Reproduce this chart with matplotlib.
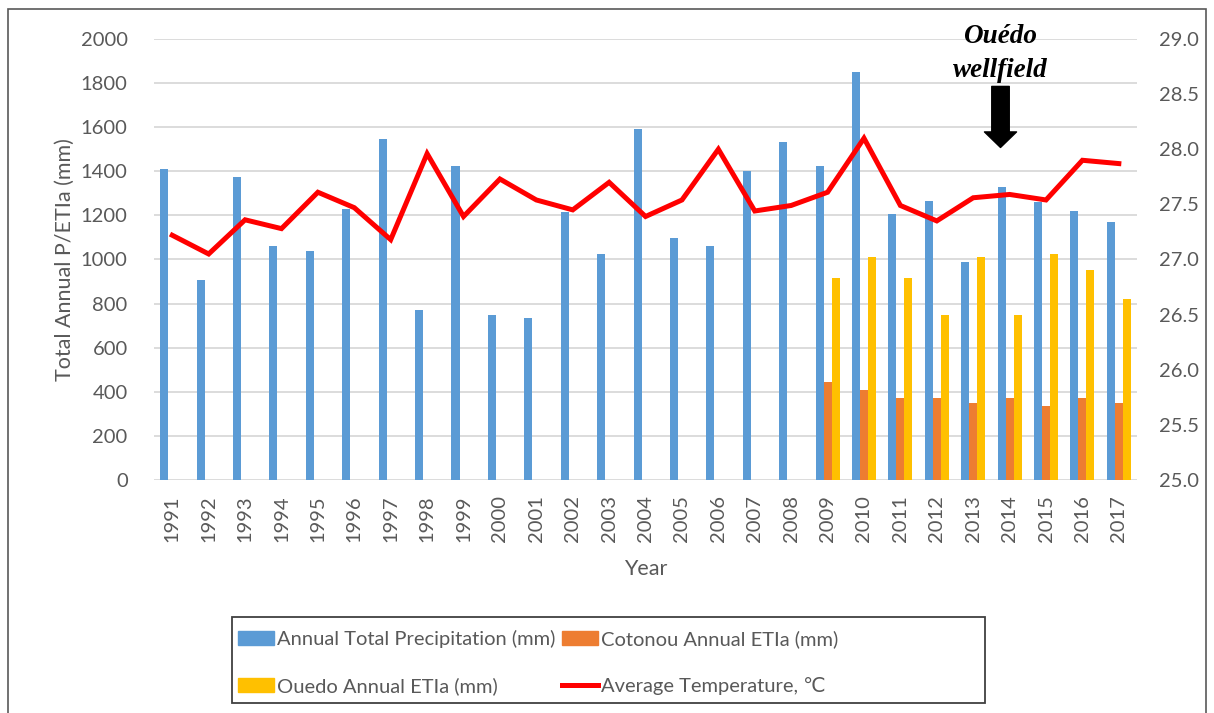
import numpy as np
from matplotlib import pyplot as plt
from matplotlib.patches import Rectangle, Patch
from matplotlib.lines import Line2D

plt.rcParams['font.family'] = ['Lato', 'DejaVu Sans']

years = list(range(1991, 2018))
precip = [1410, 905, 1375, 1060, 1037, 1228, 1545, 771, 1424, 747, 735, 1217, 1025,
          1593, 1097, 1061, 1400, 1533, 1424, 1849, 1206, 1267, 989, 1327, 1262, 1219, 1170]
cotonou_years = list(range(2009, 2018))
cotonou = [444, 408, 372, 372, 348, 372, 336, 372, 348]
ouedo = [916, 1013, 916, 747, 1013, 747, 1025, 952, 819]
temp = [27.22, 27.05, 27.36, 27.28, 27.61, 27.47, 27.18, 27.96, 27.39, 27.73, 27.54, 27.45, 27.70,
        27.39, 27.54, 28.00, 27.44, 27.49, 27.61, 28.10, 27.49, 27.35, 27.56, 27.59, 27.54, 27.90, 27.87]

blue = '#5b9bd5'
orange = '#ed7d31'
yellow = '#ffc000'
grey = '#595959'

fig = plt.figure(figsize=(12.14, 7.13), dpi=100)
ax = fig.add_axes([0.1269, 0.3268, 0.8097, 0.6185])

x = np.arange(len(years))
xc = np.array([years.index(y) for y in cotonou_years])
w = 0.22
ax.bar(x - w, precip, w, color=blue, zorder=2)
ax.bar(xc, cotonou, w, color=orange, zorder=2)
ax.bar(xc + w, ouedo, w, color=yellow, zorder=2)

ax.set_ylim(0, 2000)
ax.set_xlim(-0.5, len(years) - 0.5)
ax.set_yticks(np.arange(0, 2001, 200))
ax.grid(axis='y', color='#d9d9d9', lw=1.3, zorder=0)
ax.set_axisbelow(True)
for s in ax.spines.values():
    s.set_visible(False)
ax.set_xticks(x)
ax.set_xticklabels([str(y) for y in years], rotation=90)
ax.tick_params(axis='x', length=0, labelsize=14.5, labelcolor=grey, pad=11)
ax.tick_params(axis='y', length=0, labelsize=14.5, labelcolor=grey, pad=19)
ax.set_ylabel('Total Annual P/ETIa (mm)', fontsize=15.5, color=grey, labelpad=4)
ax.set_xlabel('Year', fontsize=15.5, color=grey, labelpad=12)

ax2 = ax.twinx()
ax2.plot(x, temp, color='#ff0000', lw=3.6, solid_joinstyle='miter', zorder=3)
ax2.set_ylim(25.0, 29.0)
ax2.set_yticks(np.arange(25.0, 29.01, 0.5))
ax2.set_yticklabels(['%.1f' % v for v in np.arange(25.0, 29.01, 0.5)])
ax2.tick_params(axis='y', length=0, labelsize=14.5, labelcolor=grey, pad=16)
for s in ax2.spines.values():
    s.set_visible(False)

# annotation
ax.text(22.75, 2010, 'Ouédo', ha='center', va='center', fontsize=19.5, fontweight='bold',
        fontstyle='italic', family='Liberation Serif', clip_on=False)
ax.text(22.75, 1855, 'wellfield', ha='center', va='center', fontsize=19.5, fontweight='bold',
        fontstyle='italic', family='Liberation Serif', clip_on=False)
ax.annotate('', xy=(22.75, 1508), xytext=(22.75, 1785),
            arrowprops=dict(arrowstyle='simple,head_width=1.65,head_length=0.8,tail_width=0.9',
                            color='black', mutation_scale=14, shrinkA=0, shrinkB=0), zorder=5)

# legend with an Excel-like box
fig.patches.append(Rectangle((232 / 1214, 1 - 703 / 713), 753 / 1214, 86 / 713,
                             transform=fig.transFigure, fill=False, edgecolor='#404040', lw=1.3))
handles = [Patch(color=blue), Patch(color=yellow), Patch(color=orange),
           Line2D([], [], color='#ff0000', lw=3.6)]
labels = ['Annual Total Precipitation (mm)', 'Ouedo Annual ETIa (mm)',
          'Cotonou Annual ETIa (mm)', 'Average Temperature, \u2103']
leg = fig.legend(handles, labels, ncol=2, loc='upper left',
                 bbox_to_anchor=(234 / 1214, 1 - 626 / 713),
                 fontsize=14.5, frameon=False,
                 handlelength=1.8, handleheight=0.7, handletextpad=0.15, columnspacing=0.3,
                 labelspacing=1.45, borderpad=0.2, borderaxespad=0)
for t in leg.get_texts():
    t.set_color(grey)

fig.patches.append(Rectangle((8 / 1214, -0.01), 1198 / 1214, 1 - 9 / 713 + 0.01,
                             transform=fig.transFigure, fill=False, edgecolor='#595959', lw=1.2))

fig.savefig('out.png', dpi=100)
